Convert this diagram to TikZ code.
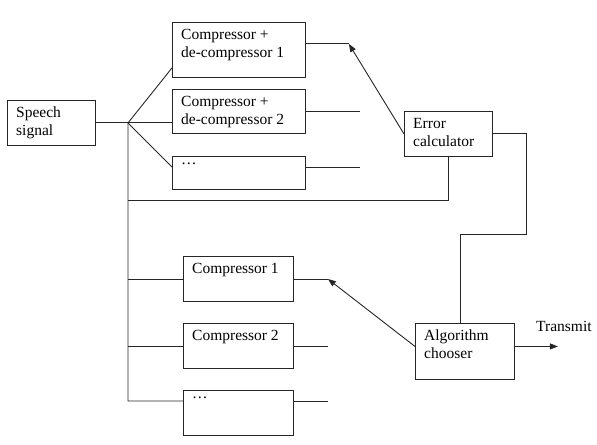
\documentclass[tikz,border=0pt]{standalone}
\usepackage{fontspec}
\setmainfont{Liberation Serif}
\usetikzlibrary{arrows.meta, calc}
\tikzset{
    >={Triangle[length=8bp, width=6bp]},
    % Lines
    wire/.style={draw=black!85, line width=0.9bp},
    flow/.style={wire, ->},
    % Shapes
    blk/.style={rectangle, wire, anchor=north west, inner sep=0pt},
    txt/.style={anchor=north west, align=left, inner xsep=9bp, inner ysep=7bp,
                font=\fontsize{15.5bp}{17.7bp}\selectfont}
}

\begin{document}
\begin{tikzpicture}[x=1bp, y=-1bp]
\useasboundingbox (0,0) rectangle (597,445);

% input and splitter
\node[blk, minimum width=88bp, minimum height=45bp,
      label={[txt]north west:{Speech\\signal}}] (speech) at (7,100) {};
\coordinate (j) at (speech.east -| 128,0);

% compressor + de-compressor bank
\node[blk, minimum width=133bp, minimum height=55bp,
      label={[txt]north west:{Compressor +\\de-compressor 1}}] (cd1) at (172,22) {};
\node[blk, minimum width=133bp, minimum height=44bp,
      label={[txt]north west:{Compressor +\\de-compressor 2}}] (cd2) at (172,89) {};
\node[blk, minimum width=133bp, minimum height=33bp,
      label={[txt]north west:{\dots}}] (cd3) at (172,156) {};

\node[blk, minimum width=88bp, minimum height=45bp,
      label={[txt]north west:{Error\\calculator}}] (err) at (404,111) {};

% compressor bank
\node[blk, minimum width=110bp, minimum height=45bp,
      label={[txt]north west:{Compressor 1}}] (c1) at (183,256) {};
\node[blk, minimum width=110bp, minimum height=45bp,
      label={[txt]north west:{Compressor 2}}] (c2) at (183,323) {};
\node[blk, minimum width=110bp, minimum height=45bp,
      label={[txt]north west:{\dots}}] (c3) at (183,390) {};

\node[blk, minimum width=99bp, minimum height=56bp,
      label={[txt]north west:{Algorithm\\chooser}}] (alg) at (415,323) {};
\node[txt, anchor=base west, inner sep=0pt] (tx) at (536,331) {Transmit};

% splitting the signal
\draw[wire] (speech.east) -- (j);
\draw[wire] (j) -- ([yshift=10bp]cd1.south west);
\draw[wire] (j) -- (j -| cd2.west);
\draw[wire] (j) -- ([yshift=-11bp]cd3.north west);
\coordinate (fb) at (128,200);
\coordinate (jl) at (128,401);
\draw[wire] (j) -- (jl) -- ([yshift=-11bp]c3.north west);
\draw[wire] (j |- c1.west) -- (c1.west);
\draw[wire] (j |- c2.west) -- (c2.west);
\draw[wire] (fb) -| (err.south);

% outputs of the banks
\draw[wire] ([yshift=6bp]cd1.east) -- ++(43,0) coordinate (o1);
\draw[wire] ([yshift=-22bp]cd2.north east) -- ++(54,0);
\draw[wire] ([yshift=-11bp]cd3.north east) -- ++(54,0);
\draw[wire] (c1.east) -- ++(34,0) coordinate (o4);
\draw[wire] (c2.east) -- ++(34,0);
\draw[wire] ([yshift=-11bp]c3.north east) -- ++(34,0);

% selection
\draw[flow] (err.west) -- (o1);
\draw[wire] (err.east) -- ++(34,0) |- ([xshift=-5bp]alg.north |- 0,234)
            -- ([xshift=-5bp]alg.north);
\draw[flow] ([yshift=5bp]alg.west) -- (o4);
\draw[flow] ([yshift=5bp]alg.east) -- ++(43,0);

\end{tikzpicture}
\end{document}
